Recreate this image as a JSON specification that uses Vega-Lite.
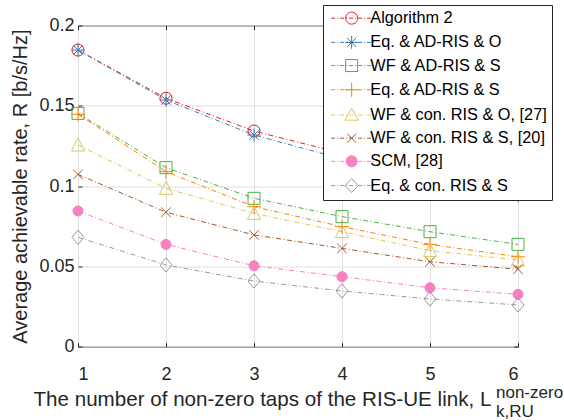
{
  "$schema": "https://vega.github.io/schema/vega-lite/v6.json",
  "width": 440,
  "height": 321.2,
  "autosize": {"type": "none"},
  "padding": {"left": 78, "top": 25.5, "right": 46, "bottom": 73.3},
  "background": "white",
  "config": {
    "font": "Liberation Sans",
    "view": {"stroke": "#262626", "strokeWidth": 1}
  },
  "title": {
    "text": "non-zero",
    "subtitle": "k,RU",
    "orient": "bottom",
    "anchor": "start",
    "frame": "group",
    "align": "left",
    "dx": 418,
    "dy": -26,
    "offset": 0,
    "font": "Liberation Sans",
    "subtitleFont": "Liberation Sans",
    "fontSize": 17,
    "subtitleFontSize": 17,
    "fontWeight": "normal",
    "color": "#262626",
    "subtitleColor": "#262626",
    "subtitlePadding": 2
  },
  "data": {
    "values": [
      {"x": 1, "series": "Algorithm 2", "y": 0.1847},
      {"x": 2, "series": "Algorithm 2", "y": 0.1547},
      {"x": 3, "series": "Algorithm 2", "y": 0.1343},
      {"x": 4, "series": "Algorithm 2", "y": 0.1204},
      {"x": 5, "series": "Algorithm 2", "y": 0.1085},
      {"x": 6, "series": "Algorithm 2", "y": 0.0976},
      {"x": 1, "series": "Eq. & AD-RIS & O", "y": 0.1847},
      {"x": 2, "series": "Eq. & AD-RIS & O", "y": 0.1536},
      {"x": 3, "series": "Eq. & AD-RIS & O", "y": 0.1318},
      {"x": 4, "series": "Eq. & AD-RIS & O", "y": 0.117},
      {"x": 5, "series": "Eq. & AD-RIS & O", "y": 0.1045},
      {"x": 6, "series": "Eq. & AD-RIS & O", "y": 0.094},
      {"x": 1, "series": "WF & AD-RIS & S", "y": 0.1453},
      {"x": 2, "series": "WF & AD-RIS & S", "y": 0.1115},
      {"x": 3, "series": "WF & AD-RIS & S", "y": 0.0924},
      {"x": 4, "series": "WF & AD-RIS & S", "y": 0.081},
      {"x": 5, "series": "WF & AD-RIS & S", "y": 0.0716},
      {"x": 6, "series": "WF & AD-RIS & S", "y": 0.0637},
      {"x": 1, "series": "Eq. & AD-RIS & S", "y": 0.1447},
      {"x": 2, "series": "Eq. & AD-RIS & S", "y": 0.109},
      {"x": 3, "series": "Eq. & AD-RIS & S", "y": 0.0872},
      {"x": 4, "series": "Eq. & AD-RIS & S", "y": 0.0747},
      {"x": 5, "series": "Eq. & AD-RIS & S", "y": 0.0637},
      {"x": 6, "series": "Eq. & AD-RIS & S", "y": 0.056},
      {"x": 1, "series": "WF & con. RIS & O, [27]", "y": 0.1256},
      {"x": 2, "series": "WF & con. RIS & O, [27]", "y": 0.0986},
      {"x": 3, "series": "WF & con. RIS & O, [27]", "y": 0.083},
      {"x": 4, "series": "WF & con. RIS & O, [27]", "y": 0.0716},
      {"x": 5, "series": "WF & con. RIS & O, [27]", "y": 0.0598},
      {"x": 6, "series": "WF & con. RIS & O, [27]", "y": 0.054},
      {"x": 1, "series": "WF & con. RIS & S, [20]", "y": 0.1073},
      {"x": 2, "series": "WF & con. RIS & S, [20]", "y": 0.0837},
      {"x": 3, "series": "WF & con. RIS & S, [20]", "y": 0.0696},
      {"x": 4, "series": "WF & con. RIS & S, [20]", "y": 0.0612},
      {"x": 5, "series": "WF & con. RIS & S, [20]", "y": 0.0529},
      {"x": 6, "series": "WF & con. RIS & S, [20]", "y": 0.0482},
      {"x": 1, "series": "SCM, [28]", "y": 0.0845},
      {"x": 2, "series": "SCM, [28]", "y": 0.0637},
      {"x": 3, "series": "SCM, [28]", "y": 0.0504},
      {"x": 4, "series": "SCM, [28]", "y": 0.0436},
      {"x": 5, "series": "SCM, [28]", "y": 0.0367},
      {"x": 6, "series": "SCM, [28]", "y": 0.0326},
      {"x": 1, "series": "Eq. & con. RIS & S", "y": 0.0681},
      {"x": 2, "series": "Eq. & con. RIS & S", "y": 0.0509},
      {"x": 3, "series": "Eq. & con. RIS & S", "y": 0.0409},
      {"x": 4, "series": "Eq. & con. RIS & S", "y": 0.0347},
      {"x": 5, "series": "Eq. & con. RIS & S", "y": 0.0297},
      {"x": 6, "series": "Eq. & con. RIS & S", "y": 0.026}
    ]
  },
  "resolve": {"axis": {"x": "independent", "y": "independent"}},
  "layer": [
    {
      "mark": {"type": "line", "strokeWidth": 1, "strokeDash": [5, 2.5, 1, 2.5]},
      "encoding": {
        "x": {
          "field": "x", "type": "quantitative",
          "scale": {"domain": [1, 6], "nice": false, "zero": false},
          "axis": {
            "orient": "bottom",
            "values": [1, 2, 3, 4, 5, 6], "format": "d",
            "grid": true, "gridColor": "#dfdfdf", "gridWidth": 1,
            "domain": false,
            "ticks": true, "tickSize": -4, "tickColor": "#262626", "tickWidth": 1,
            "labelFontSize": 18, "labelColor": "#262626", "labelPadding": 23,
            "labelFont": "Liberation Sans",
            "title": "The number of non-zero taps of the RIS-UE link, L",
            "titleFont": "Liberation Sans",
            "titleFontSize": 20.6, "titleFontWeight": "normal", "titleColor": "#262626",
            "titleX": -45, "titleY": 43.2, "titleAlign": "left", "titleBaseline": "top"
          }
        },
        "y": {
          "field": "y", "type": "quantitative",
          "scale": {"domain": [0, 0.2], "nice": false},
          "axis": {
            "orient": "left",
            "values": [0, 0.05, 0.1, 0.15, 0.2], "format": "~g",
            "grid": true, "gridColor": "#dfdfdf", "gridWidth": 1,
            "domain": false,
            "ticks": true, "tickSize": -4, "tickColor": "#262626", "tickWidth": 1,
            "labelFontSize": 18, "labelColor": "#262626", "labelPadding": 8,
            "labelFont": "Liberation Sans",
            "title": "Average achievable rate, R [b/s/Hz]",
            "titleFont": "Liberation Sans",
            "titleFontSize": 20, "titleFontWeight": "normal", "titleColor": "#262626",
            "titleX": -48
          }
        },
        "color": {
          "field": "series", "type": "nominal",
          "scale": {
            "domain": ["Algorithm 2", "Eq. & AD-RIS & O", "WF & AD-RIS & S", "Eq. & AD-RIS & S", "WF & con. RIS & O, [27]", "WF & con. RIS & S, [20]", "SCM, [28]", "Eq. & con. RIS & S"],
            "range": ["#e41a1c", "#377eb8", "#4daf4a", "#ff7f00", "#dcc95c", "#a65628", "#f781bf", "#999999"]
          },
          "legend": {
            "orient": "none", "legendX": 245, "legendY": -20.5,
            "title": null, "padding": 5,
            "strokeColor": "#262626", "fillColor": "white", "cornerRadius": 0,
            "labelFont": "Liberation Sans", "labelFontSize": 16.3, "labelColor": "#000000",
            "labelLimit": 0, "labelOffset": 26,
            "symbolSize": 100, "symbolStrokeWidth": 1, "rowPadding": 6.2,
            "encode": {
              "symbols": {
                "update": {
                  "shape": {"signal": "['M-1,0H-0.2M0.2,0H0.4M0.8,0H1.6M2,0H2.2M2.6,0H3.4M3.8,0H4M4.4,0H5.2M5.6,0H5.8M6.2,0H7M7.4,0H7.6M1.9,0A1.2,1.2,0,1,1,4.3,0A1.2,1.2,0,1,1,1.9,0Z', 'M-1,0H-0.2M0.2,0H0.4M0.8,0H1.6M2,0H2.2M2.6,0H3.4M3.8,0H4M4.4,0H5.2M5.6,0H5.8M6.2,0H7M7.4,0H7.6M1.8,0H4.4M3.1,-1.3V1.3M2.18,-0.92L4.02,0.92M2.18,0.92L4.02,-0.92', 'M-1,0H-0.2M0.2,0H0.4M0.8,0H1.6M2,0H2.2M2.6,0H3.4M3.8,0H4M4.4,0H5.2M5.6,0H5.8M6.2,0H7M7.4,0H7.6M1.9,-1.2H4.3V1.2H1.9Z', 'M-1,0H-0.2M0.2,0H0.4M0.8,0H1.6M2,0H2.2M2.6,0H3.4M3.8,0H4M4.4,0H5.2M5.6,0H5.8M6.2,0H7M7.4,0H7.6M1.7,0H4.5M3.1,-1.4V1.4', 'M-1,0H-0.2M0.2,0H0.4M0.8,0H1.6M2,0H2.2M2.6,0H3.4M3.8,0H4M4.4,0H5.2M5.6,0H5.8M6.2,0H7M7.4,0H7.6M3.1,-1.35L4.45,1.05H1.75Z', 'M-1,0H-0.2M0.2,0H0.4M0.8,0H1.6M2,0H2.2M2.6,0H3.4M3.8,0H4M4.4,0H5.2M5.6,0H5.8M6.2,0H7M7.4,0H7.6M2.2,-0.9L4,0.9M2.2,0.9L4,-0.9', 'M-1,0H-0.2M0.2,0H0.4M0.8,0H1.6M2,0H2.2M2.6,0H3.4M3.8,0H4M4.4,0H5.2M5.6,0H5.8M6.2,0H7M7.4,0H7.6M2,0A1.1,1.1,0,1,1,4.2,0A1.1,1.1,0,1,1,2,0Z', 'M-1,0H-0.2M0.2,0H0.4M0.8,0H1.6M2,0H2.2M2.6,0H3.4M3.8,0H4M4.4,0H5.2M5.6,0H5.8M6.2,0H7M7.4,0H7.6M3.1,-1.4L4.4,0L3.1,1.4L1.8,0Z'][datum.index]"},
                  "stroke": {"signal": "['#e41a1c', '#377eb8', '#4daf4a', '#ff7f00', '#dcc95c', '#a65628', '#f781bf', '#999999'][datum.index]"},
                  "fill": {"signal": "datum.index === 6 ? '#f781bf' : 'transparent'"},
                  "strokeDash": {"value": []},
                  "strokeWidth": {"value": 1},
                  "opacity": {"value": 1}
                }
              }
            }
          }
        }
      }
    },
    {
      "mark": {"type": "point", "filled": false, "strokeWidth": 1, "opacity": 1},
      "encoding": {
        "x": {
          "field": "x", "type": "quantitative",
          "axis": {
            "orient": "top", "values": [1, 2, 3, 4, 5, 6], "labels": false,
            "grid": false, "domain": false, "title": null,
            "ticks": true, "tickSize": -4, "tickColor": "#262626", "tickWidth": 1
          }
        },
        "y": {
          "field": "y", "type": "quantitative",
          "axis": {
            "orient": "right", "values": [0, 0.05, 0.1, 0.15, 0.2], "labels": false,
            "grid": false, "domain": false, "title": null,
            "ticks": true, "tickSize": -4, "tickColor": "#262626", "tickWidth": 1
          }
        },
        "color": {"field": "series", "type": "nominal"},
        "shape": {
          "condition": [
            {"test": "datum.series === 'Eq. & AD-RIS & O'", "value": "M-1.1,0H1.1M0,-1.1V1.1M-0.78,-0.78L0.78,0.78M-0.78,0.78L0.78,-0.78"},
            {"test": "datum.series === 'WF & AD-RIS & S'", "value": "square"},
            {"test": "datum.series === 'Eq. & AD-RIS & S'", "value": "M-1.15,0H1.15M0,-1.15V1.15"},
            {"test": "datum.series === 'WF & con. RIS & O, [27]'", "value": "M0,-1.2L1.1,1H-1.1Z"},
            {"test": "datum.series === 'WF & con. RIS & S, [20]'", "value": "M-0.8,-0.8L0.8,0.8M-0.8,0.8L0.8,-0.8"},
            {"test": "datum.series === 'Eq. & con. RIS & S'", "value": "M0,-1.2L1,0L0,1.2L-1,0Z"}
          ],
          "value": "circle"
        },
        "fill": {
          "condition": {"test": "datum.series === 'SCM, [28]'", "value": "#f781bf"},
          "value": "transparent"
        },
        "size": {
          "condition": {"test": "datum.series === 'SCM, [28]'", "value": 100},
          "value": 144
        }
      }
    }
  ]
}
